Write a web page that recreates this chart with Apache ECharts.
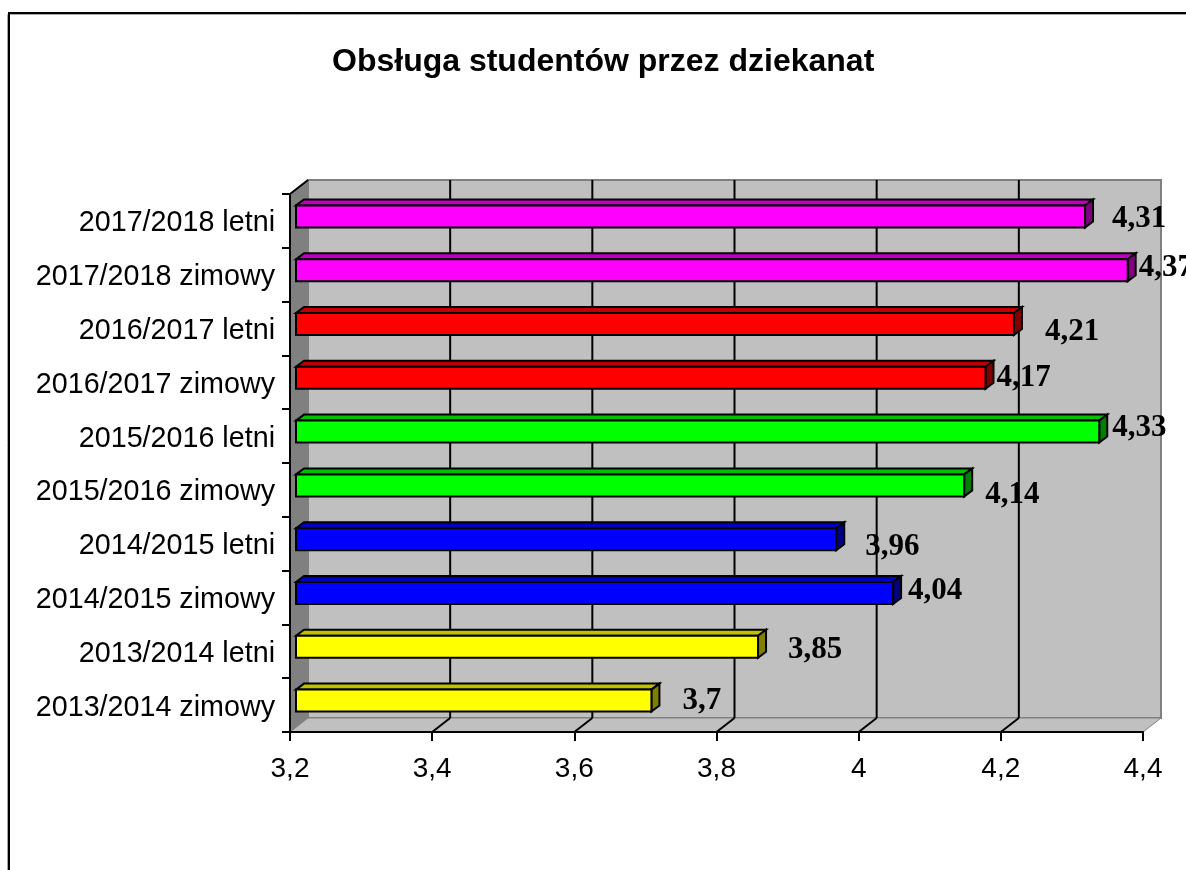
<!DOCTYPE html>
<html><head><meta charset="utf-8">
<style>html,body{margin:0;padding:0;background:#fff}#c{width:1186px;height:870px}</style>
<script src="https://cdn.jsdelivr.net/npm/echarts@6/dist/echarts.min.js"></script>
</head><body><div id="c"></div>
<script>
// Data, listed bottom to top as on the chart
const categories = ['2013/2014 zimowy','2013/2014 letni','2014/2015 zimowy','2014/2015 letni','2015/2016 zimowy','2015/2016 letni','2016/2017 zimowy','2016/2017 letni','2017/2018 zimowy','2017/2018 letni'];
const values = [3.7,3.85,4.04,3.96,4.14,4.33,4.17,4.21,4.37,4.31];
const tickValues = [3.2,3.4,3.6,3.8,4.0,4.2,4.4];
const title = 'Obsługa studentów przez dziekanat';

// Styling, kept apart from the data
const faceColors = ['#ffff00','#ffff00','#0000ff','#0000ff','#00ff00','#00ff00','#ff0000','#ff0000','#ff00ff','#ff00ff'];
const topColors  = ['#c0c000','#c0c000','#0000c0','#0000c0','#00c000','#00c000','#c00000','#c00000','#c000c0','#c000c0'];
const sideColors = ['#808000','#808000','#000080','#000080','#008000','#008000','#800000','#800000','#800080','#800080'];
const labelShiftX = [31,30,15,29,21,13,11,31,11,27];
const labelShiftY = [0,3,-2,8,10,-4,0,8,-2,3];
const WALL_DX = 18, WALL_DY = -14, BAR_DX = 6, BAR_DY = -4.5, BAR_H = 22, DEPTH_X = 8, DEPTH_Y = -6;

const dec = v => String(v).replace('.', ',');
const chart = echarts.init(document.getElementById('c'), null, {renderer:'canvas'});
const poly = (points, fill, stroke, lw) => ({type:'polygon', shape:{points}, style:{fill, stroke, lineWidth:lw}});
const line = (x1,y1,x2,y2,stroke,lw) => ({type:'line', shape:{x1,y1,x2,y2}, style:{stroke, lineWidth:lw, fill:null}});

chart.setOption({
  animation:false,
  backgroundColor:'#fff',
  graphic:[
    {type:'polyline', silent:true, z:0, shape:{points:[[7.5,880],[7.5,14.5],[1200,14.5]]}, style:{stroke:'#a8a8a8', lineWidth:1, fill:null}},
    {type:'polyline', silent:true, z:1, shape:{points:[[9,880],[9,13],[1200,13]]}, style:{stroke:'#000', lineWidth:2, fill:null}}
  ],
  title:{text:title, left:332, top:46, padding:0, textStyle:{fontFamily:'Liberation Sans', fontWeight:'bold', fontSize:32, color:'#000'}},
  grid:{left:290, right:43, top:194, bottom:138, containLabel:false},
  xAxis:{type:'value', min:3.2, max:4.4, interval:0.2, z:6,
    axisLine:{show:true, onZero:false, lineStyle:{color:'#000', width:2}},
    axisTick:{show:true, length:9, lineStyle:{color:'#000', width:2}},
    splitLine:{show:false},
    axisLabel:{margin:23, fontFamily:'Liberation Sans', fontSize:28, color:'#000',
      showMinLabel:true, showMaxLabel:true, hideOverlap:false,
      formatter:v => dec(Math.round(v*10)/10)}
  },
  yAxis:{type:'category', data:categories, z:6,
    axisLine:{show:true, lineStyle:{color:'#000', width:2}},
    axisTick:{show:true, length:8, alignWithLabel:false, lineStyle:{color:'#000', width:2}},
    axisLabel:{margin:15, interval:0, fontFamily:'Liberation Sans', fontSize:28.7, color:'#000', verticalAlign:'top', lineHeight:5}
  },
  series:[
    {type:'custom', z:2, silent:true, clip:false, coordinateSystem:'cartesian2d',
     data:[[tickValues[0],0]], encode:{x:0,y:1},
     renderItem(params, api){
       const g = params.coordSys, x0=g.x, x1=g.x+g.width, y0=g.y, y1=g.y+g.height;
       const kids = [
         poly([[x0+WALL_DX,y0+WALL_DY],[x1+WALL_DX,y0+WALL_DY],[x1+WALL_DX,y1+WALL_DY],[x0+WALL_DX,y1+WALL_DY]],'#c0c0c0','#808080',2),
         poly([[x0,y0],[x0+WALL_DX,y0+WALL_DY],[x0+WALL_DX,y1+WALL_DY],[x0,y1]],'#808080','#808080',1),
         poly([[x0,y1],[x1,y1],[x1+WALL_DX,y1+WALL_DY],[x0+WALL_DX,y1+WALL_DY]],'#c0c0c0','#808080',1),
         line(x0,y0,x0+WALL_DX,y0+WALL_DY,'#000',2)
       ];
       tickValues.slice(1,-1).forEach(t => {
         const px = api.coord([t,0])[0];
         kids.push(line(px+WALL_DX,y0+WALL_DY,px+WALL_DX,y1+WALL_DY,'#000',2));
         kids.push(line(px,y1,px+WALL_DX,y1+WALL_DY,'#000',2));
       });
       return {type:'group', children:kids};
     }},
    {type:'custom', z:3, silent:true, clip:false, coordinateSystem:'cartesian2d',
     data:values.map((v,i)=>[v,i]), encode:{x:0,y:1},
     renderItem(params, api){
       const v = api.value(0), i = api.value(1);
       const c = api.coord([v,i]), base = api.coord([tickValues[0],i]);
       const l = base[0]+BAR_DX, r = c[0]+BAR_DX, t = c[1]+BAR_DY-BAR_H/2, b = t+BAR_H;
       const k = '#000';
       return {type:'group', children:[
         poly([[l,t],[l+DEPTH_X,t+DEPTH_Y],[r+DEPTH_X,t+DEPTH_Y],[r,t]],topColors[i],k,2),
         poly([[r,t],[r+DEPTH_X,t+DEPTH_Y],[r+DEPTH_X,b+DEPTH_Y],[r,b]],sideColors[i],k,2),
         poly([[l,t],[r,t],[r,b],[l,b]],faceColors[i],k,2),
         {type:'text', z2:10, style:{text:dec(v), x:r+labelShiftX[i], y:c[1]+BAR_DY+labelShiftY[i],
           verticalAlign:'middle', align:'left', fill:'#000',
           font:'bold 31px "Liberation Serif"'}}
       ]};
     }}
  ]
});
</script></body></html>
